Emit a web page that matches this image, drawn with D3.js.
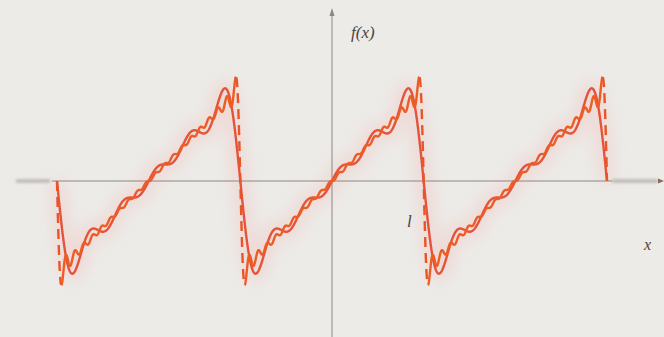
<!DOCTYPE html>
<html>
<head>
<meta charset="utf-8">
<script src="https://cdn.jsdelivr.net/npm/d3@7"></script>
<style>
  html, body { margin: 0; padding: 0; background: #ecebe8; }
  svg { display: block; }
</style>
</head>
<body>
<svg id="chart" width="664" height="337"></svg>
<script>
// Fourier sine coefficients b_n of f(x) = x on (-l, l), in units of l
// (b_n = 2(-1)^(n+1) / (n*pi)), listed for n = 1 .. 20.
const coeffsAll = [
  0.63662, -0.31831, 0.21221, -0.15915, 0.12732,
 -0.10610, 0.09095, -0.07958, 0.07074, -0.06366,
  0.05787, -0.05305, 0.04897, -0.04547, 0.04244,
 -0.03979, 0.03745, -0.03537, 0.03351, -0.03183
];
// Partial sums drawn: few terms and many terms
const termsFew = 5;
const termsMany = 20;
// x range in units of l, and axis labels
const xDomain = [-3, 3];
const yDomain = [-1.3, 1.3];
const labels = { y: "f(x)", x: "x", l: "l" };

const W = 664, H = 337;
const svg = d3.select("#chart");

const x = d3.scaleLinear().domain(xDomain).range([57, 607]);
const y = d3.scaleLinear().domain(yDomain).range([181 + 1.3 * 92, 181 - 1.3 * 92]);

const defs = svg.append("defs");
defs.append("filter").attr("id", "haze").attr("filterUnits", "userSpaceOnUse")
  .attr("x", 0).attr("y", 0).attr("width", W).attr("height", H)
  .append("feGaussianBlur").attr("stdDeviation", 8);
defs.append("filter").attr("id", "soft").attr("filterUnits", "userSpaceOnUse")
  .attr("x", 0).attr("y", 0).attr("width", W).attr("height", H)
  .append("feGaussianBlur").attr("stdDeviation", 1.4);

function partialSum(t, n) {
  let s = 0;
  for (let k = 1; k <= n; k++) s += coeffsAll[k - 1] * Math.sin(k * Math.PI * t);
  return s;
}
function samples(n) {
  const pts = [];
  const steps = 2400;
  for (let i = 0; i <= steps; i++) {
    const t = xDomain[0] + (xDomain[1] - xDomain[0]) * i / steps;
    pts.push([t, partialSum(t, n)]);
  }
  return pts;
}
const line = d3.line().x(d => x(d[0])).y(d => y(d[1])).curve(d3.curveLinear);

const fewPts = samples(termsFew);
const manyPts = samples(termsMany);

// faint pink haze beneath the curves
const haze = svg.append("g").attr("filter", "url(#haze)").attr("opacity", 0.28);
haze.append("path").attr("d", line(fewPts)).attr("fill", "none")
  .attr("stroke", "#f7a9a3").attr("stroke-width", 16);

// axes
const axisColor = "#8c8783";
const x0 = x(0), y0 = y(0);
svg.append("line").attr("x1", 52).attr("x2", 612).attr("y1", y0).attr("y2", y0)
  .attr("stroke", axisColor).attr("stroke-width", 1);
const blurAxis = svg.append("g").attr("filter", "url(#soft)");
blurAxis.append("rect").attr("x", 612).attr("y", y0 - 1.5).attr("width", 46).attr("height", 3)
  .attr("fill", "#b2afab");
blurAxis.append("rect").attr("x", 16).attr("y", y0 - 1.5).attr("width", 34).attr("height", 3)
  .attr("fill", "#b2afab");
svg.append("path").attr("d", `M${658},${y0 - 2.5} L${664},${y0} L${658},${y0 + 2.5} Z`)
  .attr("fill", "#8a6a58");
svg.append("line").attr("x1", x0).attr("x2", x0).attr("y1", 12).attr("y2", H)
  .attr("stroke", axisColor).attr("stroke-width", 1);
svg.append("path").attr("d", `M${x0 - 2.5},${16} L${x0},${8} L${x0 + 2.5},${16} Z`)
  .attr("fill", axisColor);

// curves
svg.append("path").attr("d", line(fewPts)).attr("fill", "none")
  .attr("stroke", "#e4533a").attr("stroke-width", 2.4).attr("stroke-linejoin", "round");

// many-term curve: steep drops near the jumps drawn broken
const jumps = [-3, -1, 1, 3];
const nearJump = t => jumps.some(j => Math.abs(t - j) < 0.045);
const solidPts = manyPts.map(p => nearJump(p[0]) ? null : p);
svg.append("path")
  .attr("d", d3.line().defined(d => d !== null).x(d => x(d[0])).y(d => y(d[1]))(solidPts))
  .attr("fill", "none").attr("stroke", "#ee5c26").attr("stroke-width", 2.4)
  .attr("stroke-linejoin", "round");
const steepPts = manyPts.map(p => nearJump(p[0]) ? p : null);
svg.append("path")
  .attr("d", d3.line().defined(d => d !== null).x(d => x(d[0])).y(d => y(d[1]))(steepPts))
  .attr("fill", "none").attr("stroke", "#ea5427").attr("stroke-width", 2.4)
  .attr("stroke-dasharray", "10,6");

// labels
const font = "'Liberation Serif', 'DejaVu Serif', serif";
svg.append("text").attr("x", 351).attr("y", 38).text(labels.y)
  .attr("font-family", font).attr("font-style", "italic").attr("font-size", 17)
  .attr("fill", "#4a4440");
svg.append("text").attr("x", 644).attr("y", 250).text(labels.x)
  .attr("font-family", font).attr("font-style", "italic").attr("font-size", 16)
  .attr("fill", "#4a4440");
svg.append("text").attr("x", 407).attr("y", 227).text(labels.l)
  .attr("font-family", font).attr("font-style", "italic").attr("font-size", 17)
  .attr("fill", "#4a4440");
</script>
</body>
</html>
